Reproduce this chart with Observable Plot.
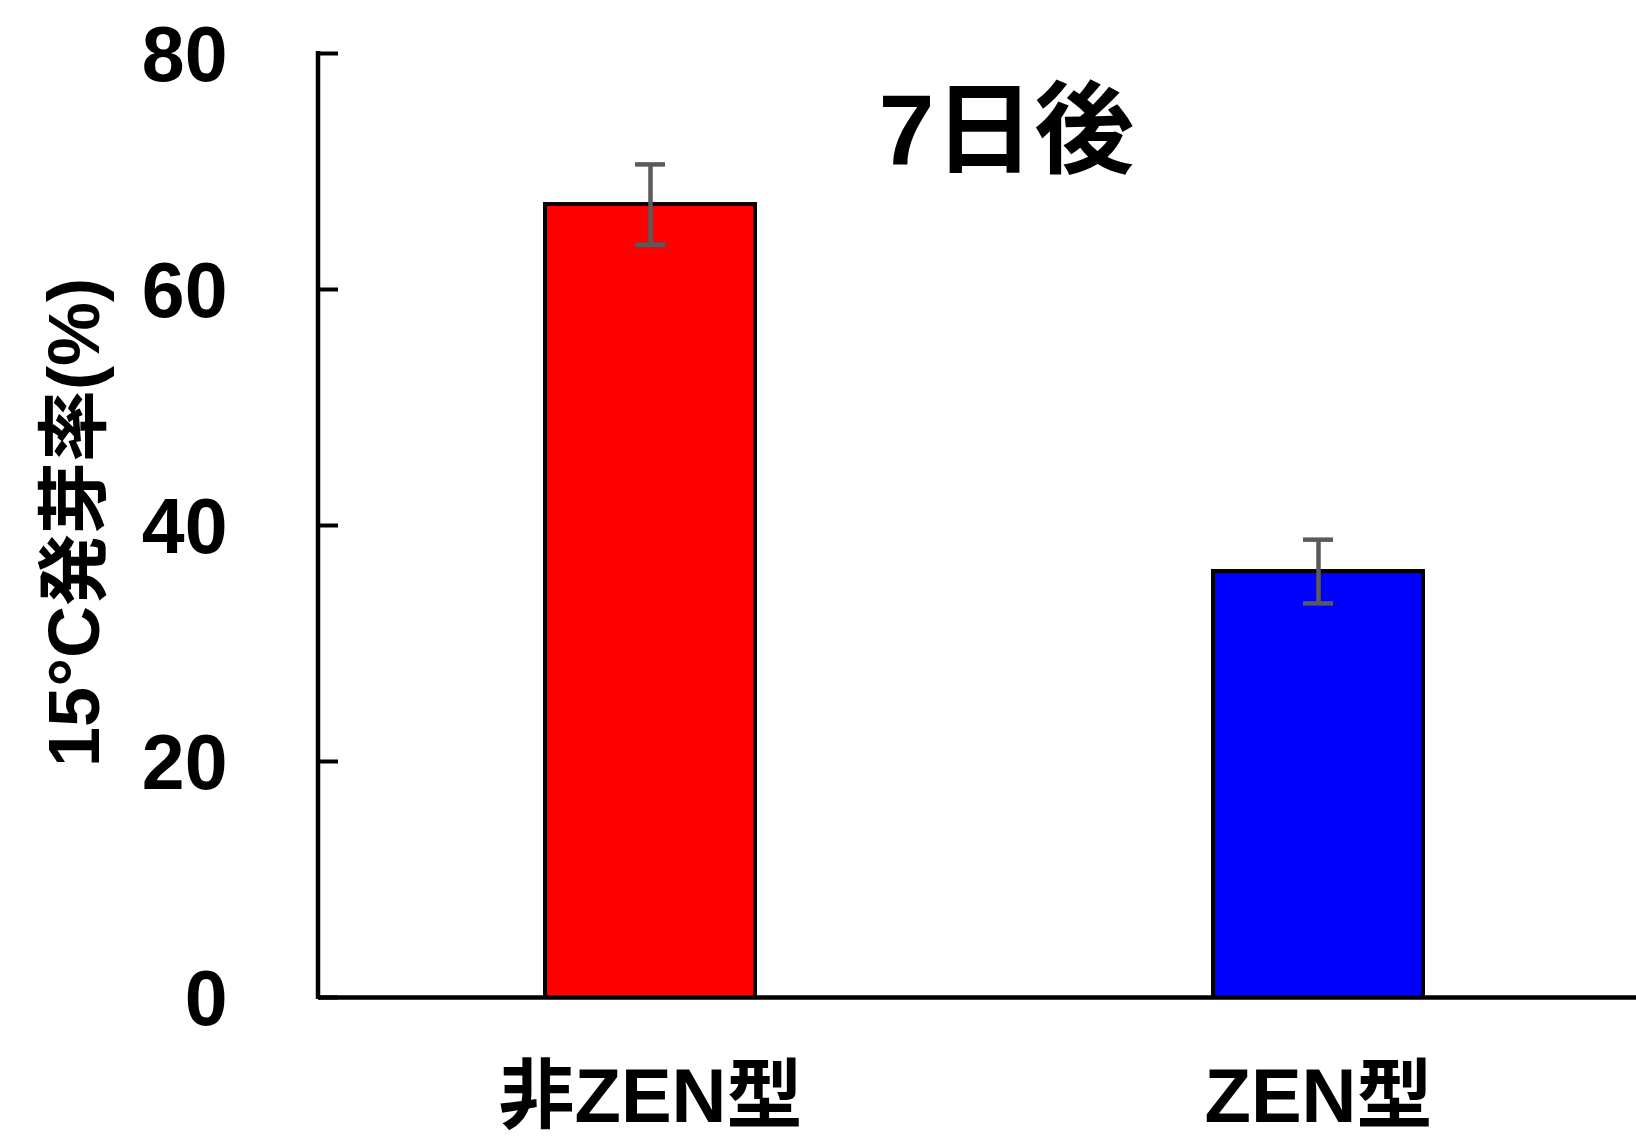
<!DOCTYPE html>
<html><head><meta charset="utf-8">
<script src="https://cdn.jsdelivr.net/npm/d3@7"></script>
<script src="https://cdn.jsdelivr.net/npm/@observablehq/plot@0.6"></script>
<style>body{margin:0;background:#fff;color:#000}</style>
</head><body><div id="chart"></div>
<script>
const categories = ["非ZEN型", "ZEN型"];
const values = [67.2, 36.1];
const errors = [3.4, 2.7];
const barColors = ["#ff0000", "#0000ff"];
const yTicks = [0, 20, 40, 60, 80];
const title = "7日後";
const yLabel = "15°C発芽率(%)";

const data = categories.map((c, i) => ({cat: c, value: values[i], err: errors[i], color: barColors[i]}));
const FONT = '"Liberation Sans", "Noto Sans CJK JP", sans-serif';
const ERR = "#5a5a5a";

const yAxisLine = (index, scales, vals, dimensions) => {
  const x = dimensions.marginLeft;
  const g = d3.create("svg:g");
  g.append("line")
    .attr("x1", x).attr("x2", x)
    .attr("y1", scales.y(80) - 2).attr("y2", scales.y(0) + 2)
    .attr("stroke", "#000").attr("stroke-width", 4.5);
  return g.node();
};

const chart = Plot.plot({
  width: 1636,
  height: 1143,
  marginLeft: 318,
  marginRight: 0,
  marginTop: 53,
  marginBottom: 146,
  style: {fontFamily: FONT, color: "#000", background: "#fff"},
  x: {domain: categories, paddingInner: 0.685, paddingOuter: 0.3276, align: 0.517},
  y: {domain: [0, 80]},
  color: {type: "identity"},
  marks: [
    Plot.barY(data, {x: "cat", y: "value", fill: "color", stroke: "#000", strokeWidth: 4}),
    Plot.ruleY([0], {stroke: "#000", strokeWidth: 4.5}),
    yAxisLine,
    Plot.ruleX(data, {x: "cat", y1: d => d.value - d.err, y2: d => d.value + d.err, stroke: ERR, strokeWidth: 4.5}),
    Plot.tickY(data, {x: "cat", y: d => d.value + d.err, stroke: ERR, strokeWidth: 4.5, insetLeft: 90, insetRight: 90}),
    Plot.tickY(data, {x: "cat", y: d => d.value - d.err, stroke: ERR, strokeWidth: 4.5, insetLeft: 90, insetRight: 90}),
    Plot.axisY({ticks: yTicks, tickSize: -20, strokeWidth: 4, tickFormat: () => "", label: null}),
    Plot.axisY({ticks: yTicks, tickSize: 0, tickPadding: 91, dy: 3, fontSize: 77, fontWeight: "bold", fontFamily: FONT, label: null}),
    Plot.axisX({tickSize: 0, tickPadding: 71, fontSize: 76, fontWeight: "bold", fontFamily: FONT, label: null}),
    Plot.text([title], {frameAnchor: "top", dx: 29, dy: 40, lineAnchor: "top", fontSize: 100, fontWeight: "bold", fontFamily: FONT}),
    Plot.text([yLabel], {frameAnchor: "left", textAnchor: "middle", dx: -243, dy: -3, rotate: -90, fontSize: 72, fontWeight: "bold", fontFamily: FONT})
  ]
});
document.getElementById("chart").appendChild(chart);
</script>
</body></html>
